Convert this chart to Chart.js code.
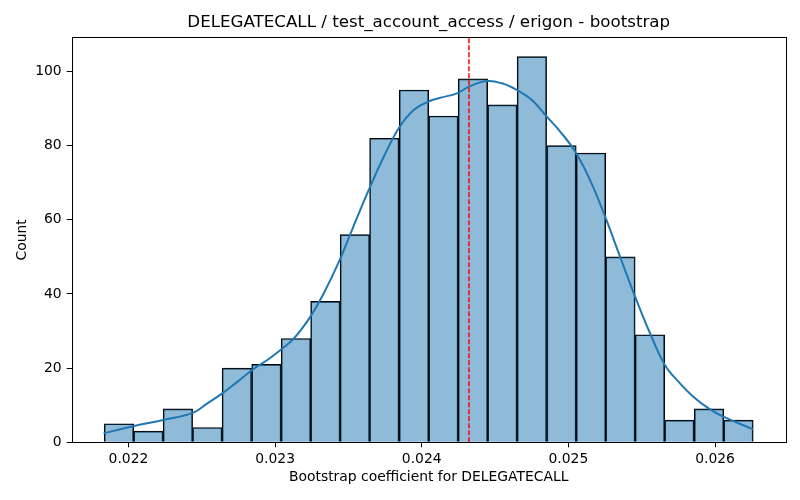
<!DOCTYPE html>
<html lang="en">
<head>
    <meta charset="UTF-8">
    <title>DELEGATECALL bootstrap</title>
    <style>
        body { margin: 0; padding: 0; background: #fff; }
        .chart-box { width: 800px; height: 500px; }
    </style>
</head>
<body>
    <div class="chart-box">
        <canvas id="bootChart" width="800" height="500"></canvas>
    </div>

    <script src="https://cdn.jsdelivr.net/npm/chart.js"></script>
    <script>
        // histogram bins (centres) and counts
        const binCenters = [0.021935, 0.022136, 0.022337, 0.022538, 0.022739, 0.022941, 0.023142, 0.023343,
            0.023544, 0.023745, 0.023947, 0.024148, 0.024349, 0.024550, 0.024751, 0.024953,
            0.025154, 0.025355, 0.025556, 0.025757, 0.025959, 0.026160];
        const counts = [5, 3, 9, 4, 20, 21, 28, 38, 56, 82, 95, 88, 98, 91, 104, 80, 78, 50, 29, 6, 9, 6];

        // kde curve
        const kdeX = [0.021830, 0.022038, 0.022236, 0.022443, 0.022538, 0.022640, 0.022742, 0.022844,
            0.022947, 0.023037, 0.023128, 0.023241, 0.023332, 0.023441, 0.023525, 0.023638,
            0.023741, 0.023843, 0.023945, 0.024047, 0.024127, 0.024240, 0.024322, 0.024445,
            0.024547, 0.024649, 0.024751, 0.024853, 0.024944, 0.025046, 0.025148, 0.025250,
            0.025352, 0.025455, 0.025557, 0.025659, 0.025761, 0.025852, 0.025954, 0.026056, 0.026260];
        const kdeY = [2.4, 4.4, 6.0, 8.0, 10.5, 13.2, 16.3, 19.5,
            22.2, 24.9, 28.0, 33.9, 40.2, 49.2, 57.3, 68.0,
            77.0, 84.7, 89.6, 91.9, 92.9, 94.1, 95.9, 97.4,
            96.8, 95.0, 92.3, 87.8, 83.8, 78.4, 70.7, 60.9,
            50.1, 39.3, 29.4, 20.8, 15.9, 12.3, 9.2, 6.9, 3.5];

        const meanValue = 0.024322;
        const xTicks = [0.022, 0.023, 0.024, 0.025, 0.026];
        const yTicks = [0, 20, 40, 60, 80, 100];
        const xMin = 0.021613, xMax = 0.026482;
        const yMax = Math.max(...counts) * 1.05;

        Chart.defaults.font.family = "'DejaVu Sans', sans-serif";
        Chart.defaults.color = '#000';

        // full box round the plot area, like matplotlib spines
        const frame = {
            id: 'frame',
            afterDatasetsDraw(chart) {
                const a = chart.chartArea;
                const ctx = chart.ctx;
                ctx.save();
                ctx.strokeStyle = '#000';
                ctx.lineWidth = 1;
                ctx.strokeRect(Math.round(a.left) + 0.5, Math.round(a.top) + 0.5,
                    Math.round(a.right - a.left), Math.round(a.bottom - a.top));
                ctx.restore();
            }
        };

        const ctx = document.getElementById('bootChart').getContext('2d');
        const bootChart = new Chart(ctx, {
            type: 'bar',
            data: {
                datasets: [{
                    type: 'line',
                    data: [{ x: meanValue, y: 0 }, { x: meanValue, y: yMax }],
                    borderColor: '#ff0000',
                    borderWidth: 1.5,
                    borderDash: [5, 2],
                    pointRadius: 0,
                    order: 1
                }, {
                    type: 'line',
                    data: kdeX.map((x, i) => ({ x: x, y: kdeY[i] })),
                    borderColor: '#1f77b4',
                    borderWidth: 2,
                    tension: 0.4,
                    pointRadius: 0,
                    order: 2
                }, {
                    type: 'bar',
                    data: binCenters.map((x, i) => ({ x: x, y: counts[i] })),
                    backgroundColor: 'rgba(31, 119, 180, 0.5)',
                    borderColor: '#000',
                    borderWidth: 1,
                    barPercentage: 1,
                    categoryPercentage: 1,
                    order: 3
                }]
            },
            options: {
                responsive: false,
                animation: false,
                layout: { padding: { left: 0, right: 14.3, top: 0, bottom: 0 } },
                plugins: {
                    legend: { display: false },
                    tooltip: { enabled: false },
                    title: {
                        display: true,
                        fullSize: false,
                        text: 'DELEGATECALL / test_account_access / erigon - bootstrap',
                        font: { size: 16.7, weight: 'normal' },
                        color: '#000',
                        padding: { top: 12.6, bottom: 4.7 }
                    }
                },
                scales: {
                    x: {
                        type: 'linear',
                        min: xMin,
                        max: xMax,
                        offset: false,
                        afterBuildTicks: (scale) => { scale.ticks = xTicks.map(v => ({ value: v })); },
                        afterFit: (scale) => { scale.height = 57.7; },
                        ticks: {
                            font: { size: 13.9 },
                            color: '#000',
                            padding: 4,
                            maxRotation: 0,
                            callback: (v) => v.toFixed(3)
                        },
                        grid: { offset: false, drawOnChartArea: false, drawTicks: true, tickLength: 5, color: '#000' },
                        border: { display: false },
                        title: {
                            display: true,
                            text: 'Bootstrap coefficient for DELEGATECALL',
                            font: { size: 13.9 },
                            color: '#000',
                            padding: { top: 4, bottom: 14.7 }
                        }
                    },
                    y: {
                        min: 0,
                        max: yMax,
                        afterBuildTicks: (scale) => { scale.ticks = yTicks.map(v => ({ value: v })); },
                        afterFit: (scale) => { scale.width = 71.7; },
                        ticks: {
                            font: { size: 13.9 },
                            color: '#000',
                            padding: 5
                        },
                        grid: { drawOnChartArea: false, drawTicks: true, tickLength: 5, color: '#000' },
                        border: { display: false },
                        title: {
                            display: true,
                            text: 'Count',
                            font: { size: 13.9 },
                            color: '#000',
                            padding: { top: 13.7, bottom: 4 }
                        }
                    }
                }
            },
            plugins: [frame]
        });
    </script>
</body>
</html>
